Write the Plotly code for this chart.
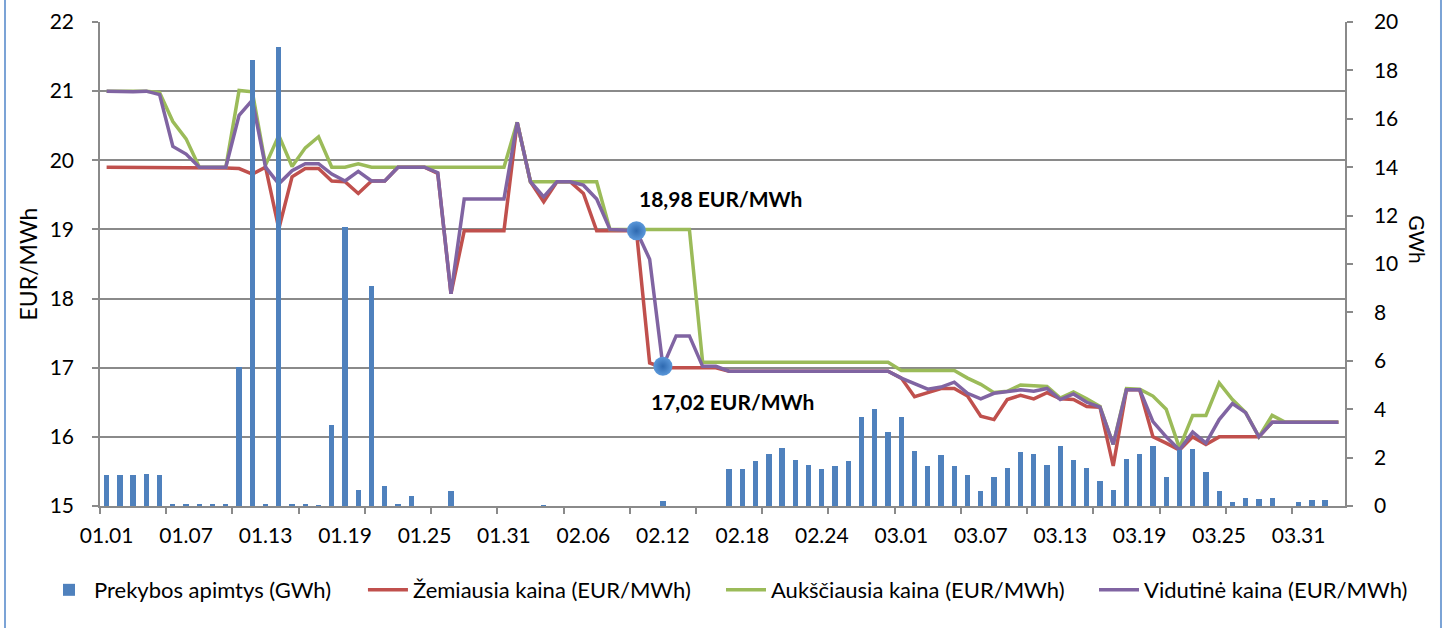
import pandas as pd
import plotly.graph_objects as go

# ---------------- data ----------------
dates = pd.date_range("2016-01-01", "2016-04-03", freq="D")

volume_gwh = [
    1.30, 1.30, 1.30, 1.32, 1.28, 0.06, 0.06, 0.06, 0.05, 0.05,
    5.73, 18.43, 0.06, 18.97, 0.05, 0.05, 0.04, 3.35, 11.53, 0.65,
    9.09, 0.84, 0.05, 0.41, 0.00, 0.00, 0.60, 0.00, 0.00, 0.00,
    0.00, 0.00, 0.00, 0.02, 0.00, 0.00, 0.00, 0.00, 0.00, 0.00,
    0.00, 0.00, 0.20, 0.00, 0.00, 0.00, 0.00, 1.53, 1.53, 1.86,
    2.15, 2.40, 1.90, 1.70, 1.53, 1.65, 1.87, 3.66, 4.01, 3.07,
    3.69, 2.29, 1.67, 2.09, 1.67, 1.29, 0.63, 1.20, 1.56, 2.22,
    2.15, 1.71, 2.47, 1.90, 1.56, 1.05, 0.65, 1.94, 2.13, 2.47,
    1.19, 2.31, 2.34, 1.40, 0.62, 0.18, 0.34, 0.27, 0.33, 0.00,
    0.17, 0.23, 0.26, 0.00,
]

min_price = [
    19.90, 19.90, 19.90, 19.90, 19.90, 19.90, 19.89, 19.89, 19.89, 19.89,
    19.88, 19.80, 19.90, 19.01, 19.76, 19.88, 19.88, 19.70, 19.69, 19.52,
    19.70, 19.70, 19.90, 19.90, 19.90, 19.81, 18.07, 18.98, 18.98, 18.98,
    18.98, 20.55, 19.69, 19.40, 19.69, 19.69, 19.52, 18.98, 18.98, 18.98,
    18.98, 17.07, 17.00, 17.00, 17.00, 17.00, 17.00, 16.95, 16.95, 16.95,
    16.95, 16.95, 16.95, 16.95, 16.95, 16.95, 16.95, 16.95, 16.95, 16.95,
    16.85, 16.58, 16.64, 16.70, 16.70, 16.59, 16.30, 16.25, 16.54, 16.60,
    16.55, 16.64, 16.55, 16.54, 16.44, 16.43, 15.58, 16.68, 16.68, 16.00,
    15.91, 15.81, 16.00, 15.89, 16.00, 16.00, 16.00, 16.00, 16.21, 16.21,
    16.21, 16.21, 16.21, 16.21,
]

max_price = [
    21.00, 21.00, 21.00, 21.00, 20.98, 20.56, 20.31, 19.90, 19.90, 19.90,
    21.01, 20.99, 19.93, 20.36, 19.91, 20.18, 20.34, 19.90, 19.90, 19.95,
    19.90, 19.90, 19.90, 19.90, 19.90, 19.90, 19.90, 19.90, 19.90, 19.90,
    19.90, 20.55, 19.69, 19.69, 19.69, 19.69, 19.69, 19.69, 19.00, 19.00,
    19.00, 19.00, 19.00, 19.00, 19.00, 17.08, 17.08, 17.08, 17.08, 17.08,
    17.08, 17.08, 17.08, 17.08, 17.08, 17.08, 17.08, 17.08, 17.08, 17.08,
    16.96, 16.96, 16.96, 16.96, 16.96, 16.85, 16.76, 16.64, 16.66, 16.75,
    16.74, 16.73, 16.56, 16.65, 16.55, 16.44, 15.89, 16.70, 16.69, 16.59,
    16.40, 15.84, 16.31, 16.31, 16.78, 16.54, 16.35, 16.00, 16.31, 16.21,
    16.21, 16.21, 16.21, 16.21,
]

avg_price = [
    21.00, 20.99, 20.99, 21.00, 20.95, 20.20, 20.09, 19.90, 19.90, 19.90,
    20.65, 20.87, 19.90, 19.66, 19.85, 19.95, 19.95, 19.80, 19.70, 19.84,
    19.70, 19.70, 19.90, 19.90, 19.90, 19.82, 18.07, 19.44, 19.44, 19.44,
    19.44, 20.55, 19.69, 19.47, 19.69, 19.69, 19.64, 19.44, 19.00, 18.99,
    18.98, 18.57, 17.02, 17.46, 17.46, 17.02, 17.02, 16.95, 16.95, 16.95,
    16.95, 16.95, 16.95, 16.95, 16.95, 16.95, 16.95, 16.95, 16.95, 16.95,
    16.85, 16.77, 16.69, 16.72, 16.79, 16.63, 16.55, 16.63, 16.66, 16.68,
    16.66, 16.70, 16.54, 16.62, 16.50, 16.43, 15.89, 16.68, 16.68, 16.22,
    16.00, 15.81, 16.07, 15.91, 16.25, 16.48, 16.35, 16.00, 16.21, 16.21,
    16.21, 16.21, 16.21, 16.21,
]

highlight_dates = ["2016-02-10", "2016-02-12"]
highlight_values = [18.98, 17.02]

tick_dates = list(pd.date_range("2016-01-01", "2016-03-31", freq="6D"))

series_names = [
    "Prekybos apimtys (GWh)",
    "Žemiausia kaina (EUR/MWh)",
    "Aukščiausia kaina (EUR/MWh)",
    "Vidutinė kaina (EUR/MWh)",
]

# ---------------- styling ----------------
FONT = "Lato, 'Open Sans', sans-serif"
GRID = "#8a8a8a"
BLUE = "#4F81BD"
RED = "#C0504D"
GREEN = "#9BBB59"
PURPLE = "#8064A2"
DAY_MS = 86400000

fig = go.Figure()

fig.add_trace(go.Bar(x=dates, y=volume_gwh, name=series_names[0], yaxis="y2",
                     legend="legend",
                     width=0.4 * DAY_MS, marker=dict(color=BLUE, line=dict(width=0))))
fig.add_trace(go.Scatter(x=dates, y=min_price, name=series_names[1], mode="lines",
                         legend="legend2",
                         line=dict(color=RED, width=3.5), yaxis="y"))
fig.add_trace(go.Scatter(x=dates, y=max_price, name=series_names[2], mode="lines",
                         legend="legend3",
                         line=dict(color=GREEN, width=3.5), yaxis="y"))
fig.add_trace(go.Scatter(x=dates, y=avg_price, name=series_names[3], mode="lines",
                         legend="legend4",
                         line=dict(color=PURPLE, width=3.5), yaxis="y"))
fig.add_trace(go.Scatter(x=highlight_dates, y=highlight_values, mode="markers",
                         showlegend=False, yaxis="y",
                         marker=dict(size=19, color="#5B98DA",
                                     gradient=dict(type="radial", color="#2E69B0"),
                                     line=dict(width=0))))

annotations = []
for d, v, xs, ys in zip(highlight_dates, highlight_values, [84, 70], [32, -35]):
    annotations.append(dict(
        x=d, y=v, xref="x", yref="y", showarrow=False,
        text="<b>" + f"{v:.2f}".replace(".", ",") + " EUR/MWh</b>",
        font=dict(family=FONT, size=21, color="#000000"),
        xshift=xs, yshift=ys))
annotations.append(dict(
    x=1.070, y=0.55, xref="paper", yref="paper", showarrow=False,
    text="GWh", textangle=90, font=dict(family=FONT, size=21, color="#000000")))

legend_common = dict(orientation="h", y=-0.1736, yanchor="middle", xanchor="left",
                     font=dict(family=FONT, size=22), itemwidth=40,
                     bgcolor="rgba(0,0,0,0)", borderwidth=0)

fig.update_layout(
    width=1446, height=628,
    margin=dict(l=100, r=101, t=22, b=122, autoexpand=False),
    paper_bgcolor="white", plot_bgcolor="white",
    font=dict(family=FONT, size=21, color="#000000"),
    bargap=0,
    xaxis=dict(
        type="date", automargin=False,
        range=["2015-12-31 12:00", "2016-04-03 12:00"],
        tickmode="array", tickvals=tick_dates, tickformat="%m.%d",
        ticks="", showgrid=False, zeroline=False,
        showline=True, linecolor=GRID, linewidth=1.5,
        tickfont=dict(family=FONT, size=21),
        ticklabelstandoff=10,
        minor=dict(ticks="outside", ticklen=6, tickwidth=1.5, tickcolor=GRID,
                   tick0="2015-12-31 12:00", dtick=5 * DAY_MS, showgrid=False),
    ),
    yaxis=dict(
        automargin=False,
        range=[15, 22], dtick=1, tick0=15,
        showgrid=True, gridcolor=GRID, gridwidth=1.5, zeroline=False,
        showline=True, linecolor=GRID, linewidth=1.5,
        ticks="outside", ticklen=6, tickwidth=1.5, tickcolor=GRID,
        tickfont=dict(family=FONT, size=21),
        ticklabelstandoff=14,
        title=dict(text="EUR/MWh", font=dict(family=FONT, size=23), standoff=6),
    ),
    yaxis2=dict(
        automargin=False,
        range=[0, 20], dtick=2, tick0=0, overlaying="y", side="right",
        showgrid=False, zeroline=False,
        showline=True, linecolor=GRID, linewidth=1.5,
        ticks="outside", ticklen=6, tickwidth=1.5, tickcolor=GRID,
        tickfont=dict(family=FONT, size=21),
        ticklabelstandoff=17,
    ),
    legend=dict(x=-0.045, **legend_common),
    legend2=dict(x=0.2112, **legend_common),
    legend3=dict(x=0.4988, **legend_common),
    legend4=dict(x=0.7984, **legend_common),
    annotations=annotations,
    shapes=[
        dict(type="line", xref="paper", yref="paper", x0=-0.0763, x1=-0.0763,
             y0=-0.26, y1=1.06, line=dict(color="#7BA3D6", width=2)),
        dict(type="line", xref="paper", yref="paper", x0=1.0771, x1=1.0771,
             y0=-0.26, y1=1.06, line=dict(color="#7BA3D6", width=2)),
    ],
)

fig.write_html("out.html",
               config={"displayModeBar": False},
               post_script="document.body.style.margin='0';")
